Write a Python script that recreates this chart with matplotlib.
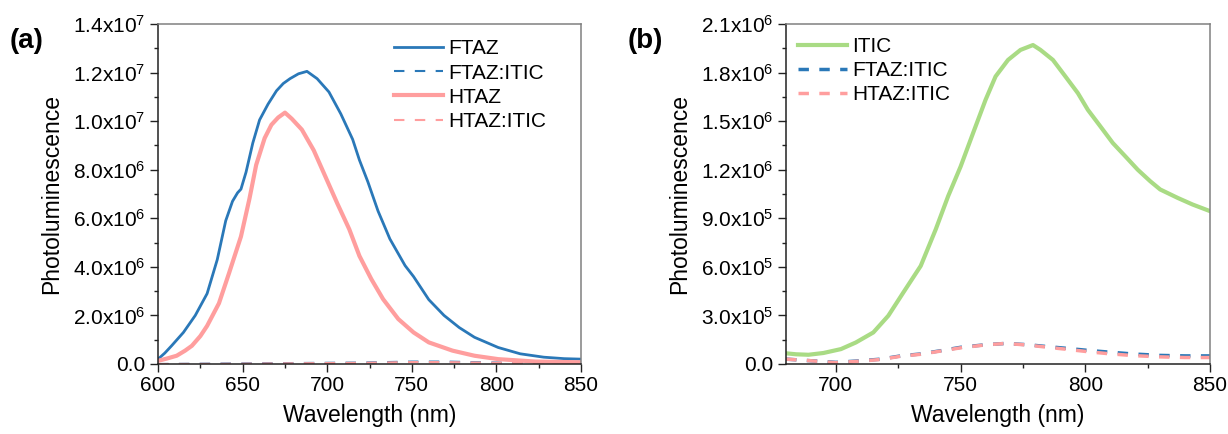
import numpy as np
import matplotlib
matplotlib.use("Agg")
import matplotlib.pyplot as plt
from matplotlib.ticker import FuncFormatter, MultipleLocator

plt.rcParams['font.family'] = ['Liberation Sans', 'DejaVu Sans']
plt.rcParams['mathtext.fontset'] = 'custom'
plt.rcParams['mathtext.rm'] = 'Liberation Sans'
plt.rcParams['mathtext.default'] = 'regular'

BLUE = '#2a78b8'
PINK = '#ff9e9e'
GREEN = '#a9db84'

# (a) donor films, 600-850 nm
wl_ftaz = [600, 604, 608, 615, 622, 629, 635, 640, 644, 647, 649, 652, 656, 660, 665, 670,
           674, 678, 683, 688, 694, 701, 708, 715, 719, 724, 730, 737, 746, 751, 760, 769,
           778, 787, 801, 814, 828, 840, 850]
pl_ftaz = [0.2e6, 0.45e6, 0.75e6, 1.3e6, 2.0e6, 2.9e6, 4.3e6, 5.9e6, 6.7e6, 7.05e6, 7.2e6,
           7.9e6, 9.1e6, 10.05e6, 10.7e6, 11.25e6, 11.55e6, 11.75e6, 11.95e6, 12.05e6, 11.75e6,
           11.2e6, 10.3e6, 9.25e6, 8.4e6, 7.5e6, 6.3e6, 5.15e6, 4.05e6, 3.6e6, 2.65e6, 2.0e6,
           1.5e6, 1.1e6, 0.68e6, 0.42e6, 0.28e6, 0.22e6, 0.2e6]

wl_htaz = [600, 605, 611, 616, 620, 625, 629, 636, 642, 649, 654, 658, 663, 667, 671, 675,
           679, 685, 692, 699, 706, 713, 719, 726, 733, 742, 751, 760, 774, 787, 801, 823, 850]
pl_htaz = [0.13e6, 0.22e6, 0.34e6, 0.55e6, 0.75e6, 1.15e6, 1.57e6, 2.5e6, 3.75e6, 5.25e6,
           6.8e6, 8.2e6, 9.3e6, 9.85e6, 10.15e6, 10.35e6, 10.1e6, 9.65e6, 8.8e6, 7.7e6, 6.6e6,
           5.55e6, 4.45e6, 3.5e6, 2.67e6, 1.85e6, 1.3e6, 0.89e6, 0.55e6, 0.34e6, 0.2e6, 0.1e6,
           0.07e6]

wl_blend_a = [600, 640, 680, 720, 750, 770, 800, 850]
pl_ftaz_itic_a = [0.0, 0.02e6, 0.04e6, 0.06e6, 0.1e6, 0.1e6, 0.06e6, 0.04e6]
pl_htaz_itic_a = [0.0, 0.01e6, 0.03e6, 0.05e6, 0.08e6, 0.08e6, 0.05e6, 0.03e6]

# (b) acceptor and blends, 680-850 nm
wl_itic = [680, 684, 689, 695, 702, 708, 715, 721, 727, 734, 740, 745, 750, 755, 760, 764,
           769, 774, 779, 782, 787, 792, 797, 801, 806, 811, 816, 821, 826, 830, 837, 843, 850]
pl_itic = [0.066e6, 0.06e6, 0.057e6, 0.068e6, 0.092e6, 0.133e6, 0.195e6, 0.298e6, 0.441e6,
           0.606e6, 0.831e6, 1.037e6, 1.22e6, 1.427e6, 1.632e6, 1.776e6, 1.878e6, 1.94e6,
           1.97e6, 1.94e6, 1.878e6, 1.776e6, 1.673e6, 1.57e6, 1.468e6, 1.365e6, 1.283e6,
           1.2e6, 1.129e6, 1.078e6, 1.026e6, 0.985e6, 0.944e6]

wl_blend_b = [680, 690, 700, 710, 718, 726, 734, 742, 750, 760, 768, 777, 785, 793, 801,
              809, 819, 830, 840, 850]
pl_ftaz_itic_b = [0.03e6, 0.02e6, 0.01e6, 0.02e6, 0.03e6, 0.05e6, 0.062e6, 0.082e6, 0.103e6,
                  0.119e6, 0.127e6, 0.119e6, 0.107e6, 0.096e6, 0.084e6, 0.074e6, 0.062e6,
                  0.053e6, 0.05e6, 0.05e6]
pl_htaz_itic_b = [0.03e6, 0.02e6, 0.008e6, 0.018e6, 0.028e6, 0.048e6, 0.06e6, 0.08e6, 0.1e6,
                  0.118e6, 0.127e6, 0.117e6, 0.103e6, 0.09e6, 0.076e6, 0.064e6, 0.052e6,
                  0.044e6, 0.04e6, 0.04e6]


def sci(v, pos):
    if v == 0:
        return "0.0"
    e = int(np.floor(np.log10(abs(v)) + 1e-9))
    return "%.1fx10$^{%d}$" % (v / 10**e, e)


def style(ax, xlim, ymax, ymaj):
    ax.set_xlim(*xlim)
    ax.set_ylim(0, ymax)
    ax.xaxis.set_major_locator(MultipleLocator(50))
    ax.xaxis.set_minor_locator(MultipleLocator(25))
    ax.yaxis.set_major_locator(MultipleLocator(ymaj))
    ax.yaxis.set_minor_locator(MultipleLocator(ymaj / 2))
    ax.yaxis.set_major_formatter(FuncFormatter(sci))
    ax.tick_params(which='both', direction='out', top=False, right=False,
                   labelsize=15, width=1, color='#222222')
    ax.tick_params(which='major', length=6, pad=3)
    ax.tick_params(which='minor', length=3)
    for s in ['top', 'right']:
        ax.spines[s].set_color('#808080')
    for s in ['left', 'bottom']:
        ax.spines[s].set_color('#222222')
    for s in ax.spines.values():
        s.set_linewidth(1.1)
    ax.set_xlabel("Wavelength (nm)", fontsize=16.5, labelpad=6)
    ax.set_ylabel("Photoluminescence", fontsize=16.5, labelpad=7)


fig = plt.figure(figsize=(12.28, 4.34), dpi=100)
ax1 = fig.add_axes([0.1287, 0.1613, 0.3445, 0.7834])
ax2 = fig.add_axes([0.6401, 0.1613, 0.3453, 0.7834])

ax1.plot(wl_ftaz, pl_ftaz, color=BLUE, lw=2, label="FTAZ")
ax1.plot(wl_blend_a, pl_ftaz_itic_a, color=BLUE, lw=1.5, ls=(0, (5, 5)), label="FTAZ:ITIC")
ax1.plot(wl_htaz, pl_htaz, color=PINK, lw=3, label="HTAZ")
ax1.plot(wl_blend_a, pl_htaz_itic_a, color=PINK, lw=1.5, ls=(0, (5, 5)), label="HTAZ:ITIC")
style(ax1, (600, 850), 1.4e7, 2e6)
ax1.legend(loc='upper left', bbox_to_anchor=(0.558, 0.955), frameon=False, fontsize=15,
           handlelength=2.35, handletextpad=0.25, labelspacing=0.25, borderpad=0,
           borderaxespad=0)

ax2.plot(wl_itic, pl_itic, color=GREEN, lw=3, label="ITIC")
ax2.plot(wl_blend_b, pl_ftaz_itic_b, color=BLUE, lw=2.5, ls=(0, (3, 3)), label="FTAZ:ITIC")
ax2.plot(wl_blend_b, pl_htaz_itic_b, color=PINK, lw=2.5, ls=(0, (3, 3)), label="HTAZ:ITIC")
style(ax2, (680, 850), 2.1e6, 3e5)
ax2.legend(loc='upper left', bbox_to_anchor=(0.028, 0.962), frameon=False, fontsize=15,
           handlelength=2.35, handletextpad=0.25, labelspacing=0.25, borderpad=0,
           borderaxespad=0)

fig.text(0.008, 0.905, "(a)", fontsize=20, fontweight='bold', va='center')
fig.text(0.511, 0.905, "(b)", fontsize=20, fontweight='bold', va='center')

fig.savefig("out.png", dpi=100)
